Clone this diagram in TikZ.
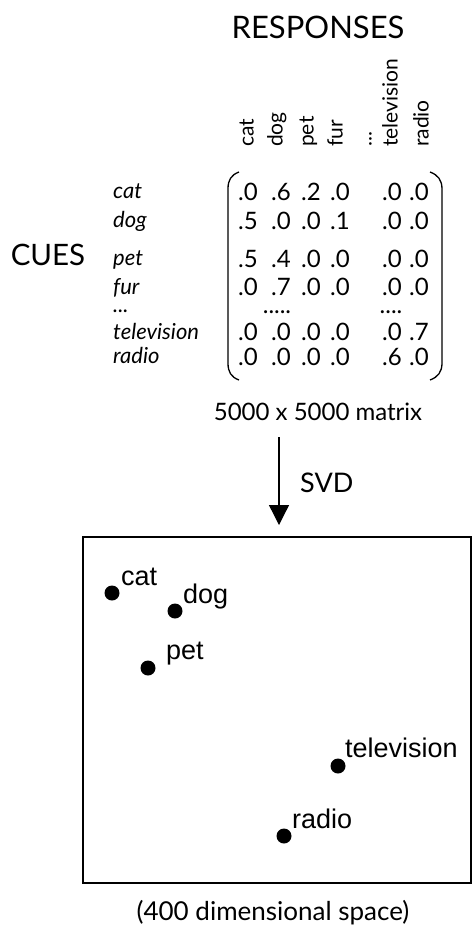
\documentclass[tikz,border=0pt]{standalone}
\usepackage{fontspec}
\setmainfont{Lato}
\newfontfamily\arialf{Liberation Sans}
\usetikzlibrary{arrows.meta}
\tikzset{
  gill/.style={inner sep=0pt, font=\fontsize{#1}{#1}\selectfont},
  collab/.style={inner sep=0pt, rotate=90, anchor=mid west, font=\fontsize{21}{21}\selectfont},
  rowlab/.style={inner sep=0pt, anchor=base west, font=\fontsize{22}{22}\selectfont\itshape},
  cell/.style={inner sep=0pt, anchor=base, font=\fontsize{24}{24}\selectfont},
  dotrow/.style={text height=3pt, text depth=0pt},
  dotpt/.style={circle, fill=black, inner sep=0pt, minimum size=15pt},
  ptlab/.style={inner sep=0pt, anchor=base west, font=\arialf\fontsize{27}{27}\selectfont},
}
\begin{document}
\begin{tikzpicture}[x=1pt,y=-1pt]
\useasboundingbox (0,0) rectangle (473,930);
% titles
\node[gill=31] (resp) at (318,27) {RESPONSES};
\node[gill=29.5] (cues) at (48,255) {CUES};
% column labels
\node[collab] (c1) at (251,147) {cat};
\node[collab] (c2) at (280,147) {dog};
\node[collab] (c3) at (311,147) {pet};
\node[collab] (c4) at (340,147) {fur};
\node[collab] (c5) at (369,147) {...};
\node[collab] (c6) at (395,147) {television};
\node[collab] (c7) at (426,147) {radio};
% row labels
\node[rowlab] (r1) at (113,198) {cat};
\node[rowlab] (r2) at (113,227) {dog};
\node[rowlab] (r3) at (113,265) {pet};
\node[rowlab] (r4) at (113,294) {fur};
\node[rowlab, dotrow] (r5) at (113,312) {...};
\node[rowlab] (r6) at (113,339) {television};
\node[rowlab] (r7) at (113,363) {radio};
% matrix cells
\foreach \y/\a/\b/\c/\d/\e/\f [count=\i] in {200/.0/.6/.2/.0/.0/.0, 229/.5/.0/.0/.1/.0/.0, 267/.5/.4/.0/.0/.0/.0, 295/.0/.7/.0/.0/.0/.0, 340/.0/.0/.0/.0/.0/.7, 365/.0/.0/.0/.0/.6/.0}{
  \node[cell] (m\i a) at (248,\y) {\a};
  \node[cell] (m\i b) at (281,\y) {\b};
  \node[cell] (m\i c) at (311,\y) {\c};
  \node[cell] (m\i d) at (340,\y) {\d};
  \node[cell] (m\i e) at (392,\y) {\e};
  \node[cell] (m\i f) at (419,\y) {\f};
}
\node[cell, dotrow] (dots1) at (277,313) {.....};
\node[cell, dotrow] (dots2) at (391,313) {....};
% parentheses
\draw[line width=1.3pt] (239,172) .. controls (231,175) and (228,180) .. (228,189) -- (228,363) .. controls (228,372) and (231,377) .. (239,380);
\draw[line width=1.3pt] (430,172) .. controls (438,175) and (442,180) .. (442,189) -- (442,363) .. controls (442,372) and (438,377) .. (430,380);
% caption
\node[gill=24] (mcap) at (318,412) {5000 x 5000 matrix};
\coordinate (as) at (279,437);
\coordinate (ae) at (279,525);
\draw[line width=1.3pt, -{Triangle[width=20pt,length=20pt]}] (as) -- (ae);
\node[gill=27, anchor=west] (svd) at (300,483) {SVD};
% box
\draw[line width=1.8pt] (83,537) rectangle (471,883);
\node[dotpt] (p1) at (112,593) {};
\node[dotpt] (p2) at (175,611) {};
\node[dotpt] (p3) at (148,668) {};
\node[dotpt] (p4) at (338,766) {};
\node[dotpt] (p5) at (284,836) {};
\node[ptlab] (l1) at (121,585) {cat};
\node[ptlab] (l2) at (183,603) {dog};
\node[ptlab] (l3) at (166,659) {pet};
\node[ptlab] (l4) at (345,757) {television};
\node[ptlab] (l5) at (292,828) {radio};
\node[gill=26] (space) at (273,913) {(400 dimensional space)};
\end{tikzpicture}
\end{document}
